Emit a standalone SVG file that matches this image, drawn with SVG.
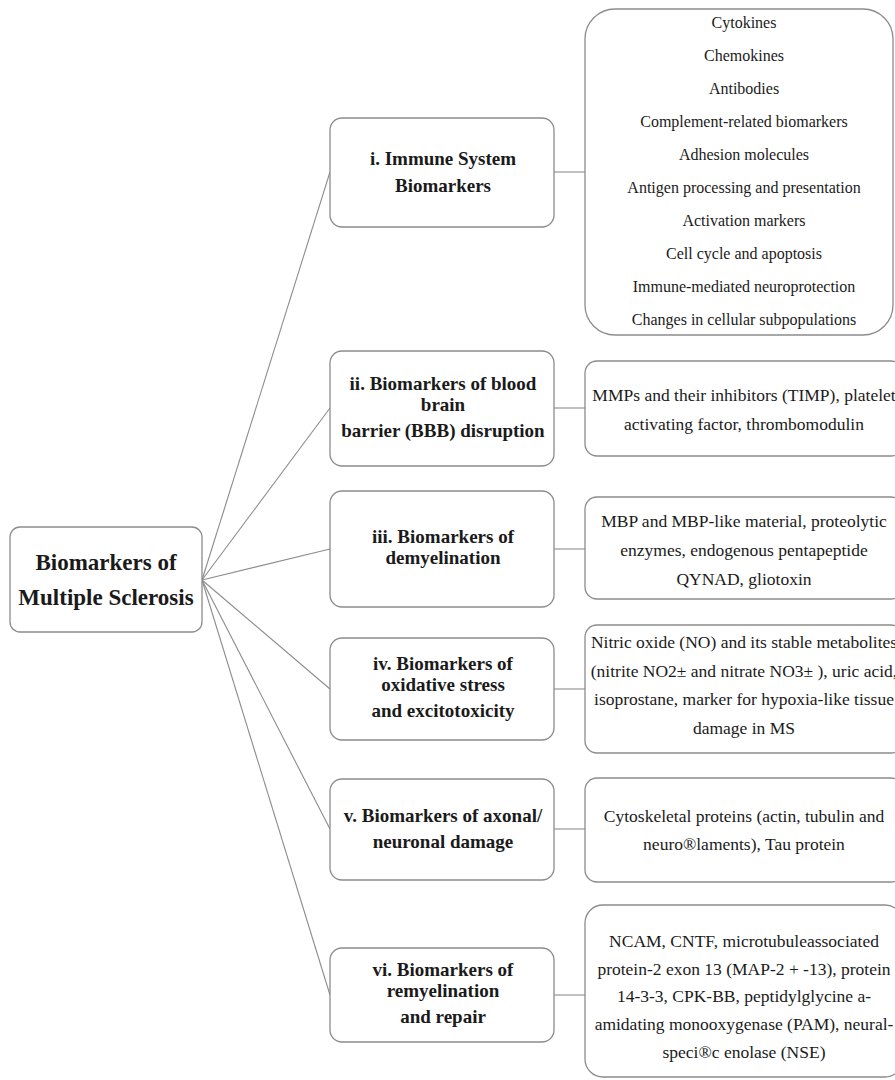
<svg xmlns="http://www.w3.org/2000/svg" width="895" height="1080" viewBox="0 0 895 1080">
  <style>
    .box { fill: #ffffff; stroke: #8c8c8c; stroke-width: 1.3; }
    .link { stroke: #8c8c8c; stroke-width: 1.1; fill: none; }
    .root { font-family: "Liberation Serif", "Times New Roman", serif; font-weight: bold; font-size: 23px; fill: #1a1a1a; text-anchor: middle; }
    .head { font-family: "Liberation Serif", "Times New Roman", serif; font-weight: bold; font-size: 19px; fill: #1a1a1a; text-anchor: middle; }
    .list { font-family: "Liberation Serif", "Times New Roman", serif; font-size: 16px; fill: #1a1a1a; text-anchor: middle; }
    .desc { font-family: "Liberation Serif", "Times New Roman", serif; font-size: 17.5px; fill: #1a1a1a; text-anchor: middle; }
  </style>
  <rect width="895" height="1080" fill="#ffffff"/>

  <!-- connectors -->
  <g id="connectors" class="link">
    <line x1="202" y1="580" x2="330" y2="172"/>
    <line x1="202" y1="580" x2="330" y2="408"/>
    <line x1="202" y1="580" x2="330" y2="549"/>
    <line x1="202" y1="580" x2="330" y2="689"/>
    <line x1="202" y1="580" x2="330" y2="829"/>
    <line x1="202" y1="580" x2="330" y2="995"/>
    <line x1="554" y1="172" x2="585" y2="172"/>
    <line x1="554" y1="408" x2="585" y2="408"/>
    <line x1="554" y1="549" x2="585" y2="549"/>
    <line x1="554" y1="689" x2="585" y2="689"/>
    <line x1="554" y1="829" x2="585" y2="829"/>
    <line x1="554" y1="995" x2="585" y2="995"/>
  </g>

  <!-- root -->
  <g id="root">
    <rect class="box" x="10" y="527" width="192" height="105" rx="10"/>
    <text class="root" x="106" y="570">Biomarkers of</text>
    <text class="root" x="106" y="605">Multiple Sclerosis</text>
  </g>

  <!-- category nodes -->
  <g id="node-immune">
    <rect class="box" x="330" y="118" width="224" height="109" rx="12"/>
    <text class="head" x="443" y="165">i. Immune System</text>
    <text class="head" x="443" y="192">Biomarkers</text>
  </g>
  <g id="node-bbb">
    <rect class="box" x="330" y="351" width="224" height="115" rx="12"/>
    <text class="head" x="443" y="390">ii. Biomarkers of blood</text>
    <text class="head" x="443" y="411">brain</text>
    <text class="head" x="443" y="437">barrier (BBB) disruption</text>
  </g>
  <g id="node-demyelination">
    <rect class="box" x="330" y="491" width="224" height="116" rx="12"/>
    <text class="head" x="443" y="543">iii. Biomarkers of</text>
    <text class="head" x="443" y="564">demyelination</text>
  </g>
  <g id="node-oxidative">
    <rect class="box" x="330" y="638" width="224" height="102" rx="12"/>
    <text class="head" x="443" y="670">iv. Biomarkers of</text>
    <text class="head" x="443" y="691">oxidative stress</text>
    <text class="head" x="443" y="717">and excitotoxicity</text>
  </g>
  <g id="node-axonal">
    <rect class="box" x="330" y="779" width="224" height="101" rx="12"/>
    <text class="head" x="443" y="822">v. Biomarkers of axonal/</text>
    <text class="head" x="443" y="848">neuronal damage</text>
  </g>
  <g id="node-remyelination">
    <rect class="box" x="330" y="948" width="224" height="94" rx="12"/>
    <text class="head" x="443" y="976">vi. Biomarkers of</text>
    <text class="head" x="443" y="997">remyelination</text>
    <text class="head" x="443" y="1023">and repair</text>
  </g>

  <!-- detail boxes -->
  <g id="detail-immune">
    <rect class="box" x="585" y="9" width="308" height="326" rx="30"/>
    <text class="list" x="744" y="28">Cytokines</text>
    <text class="list" x="744" y="61">Chemokines</text>
    <text class="list" x="744" y="94">Antibodies</text>
    <text class="list" x="744" y="127">Complement-related biomarkers</text>
    <text class="list" x="744" y="160">Adhesion molecules</text>
    <text class="list" x="744" y="193">Antigen processing and presentation</text>
    <text class="list" x="744" y="226">Activation markers</text>
    <text class="list" x="744" y="259">Cell cycle and apoptosis</text>
    <text class="list" x="744" y="292">Immune-mediated neuroprotection</text>
    <text class="list" x="744" y="325">Changes in cellular subpopulations</text>
  </g>
  <g id="detail-bbb">
    <rect class="box" x="585" y="361" width="318" height="95" rx="12"/>
    <text class="desc" x="744" y="401">MMPs and their inhibitors (TIMP), platelet</text>
    <text class="desc" x="744" y="430">activating factor, thrombomodulin</text>
  </g>
  <g id="detail-demyelination">
    <rect class="box" x="585" y="497" width="318" height="102" rx="12"/>
    <text class="desc" x="744" y="527">MBP and MBP-like material, proteolytic</text>
    <text class="desc" x="744" y="556">enzymes, endogenous pentapeptide</text>
    <text class="desc" x="744" y="585">QYNAD, gliotoxin</text>
  </g>
  <g id="detail-oxidative">
    <rect class="box" x="585" y="625" width="318" height="128" rx="12"/>
    <text class="desc" x="744" y="648">Nitric oxide (NO) and its stable metabolites</text>
    <text class="desc" x="744" y="677">(nitrite NO2± and nitrate NO3± ), uric acid,</text>
    <text class="desc" x="744" y="705">isoprostane, marker for hypoxia-like tissue</text>
    <text class="desc" x="744" y="734">damage in MS</text>
  </g>
  <g id="detail-axonal">
    <rect class="box" x="585" y="778" width="318" height="104" rx="12"/>
    <text class="desc" x="744" y="822">Cytoskeletal proteins (actin, tubulin and</text>
    <text class="desc" x="744" y="850">neuro®laments), Tau protein</text>
  </g>
  <g id="detail-remyelination">
    <rect class="box" x="585" y="905" width="318" height="172" rx="18"/>
    <text class="desc" x="744" y="947">NCAM, CNTF, microtubuleassociated</text>
    <text class="desc" x="744" y="975">protein-2 exon 13 (MAP-2 + -13), protein</text>
    <text class="desc" x="744" y="1002">14-3-3, CPK-BB, peptidylglycine a-</text>
    <text class="desc" x="744" y="1030">amidating monooxygenase (PAM), neural-</text>
    <text class="desc" x="744" y="1058">speci®c enolase (NSE)</text>
  </g>
</svg>
